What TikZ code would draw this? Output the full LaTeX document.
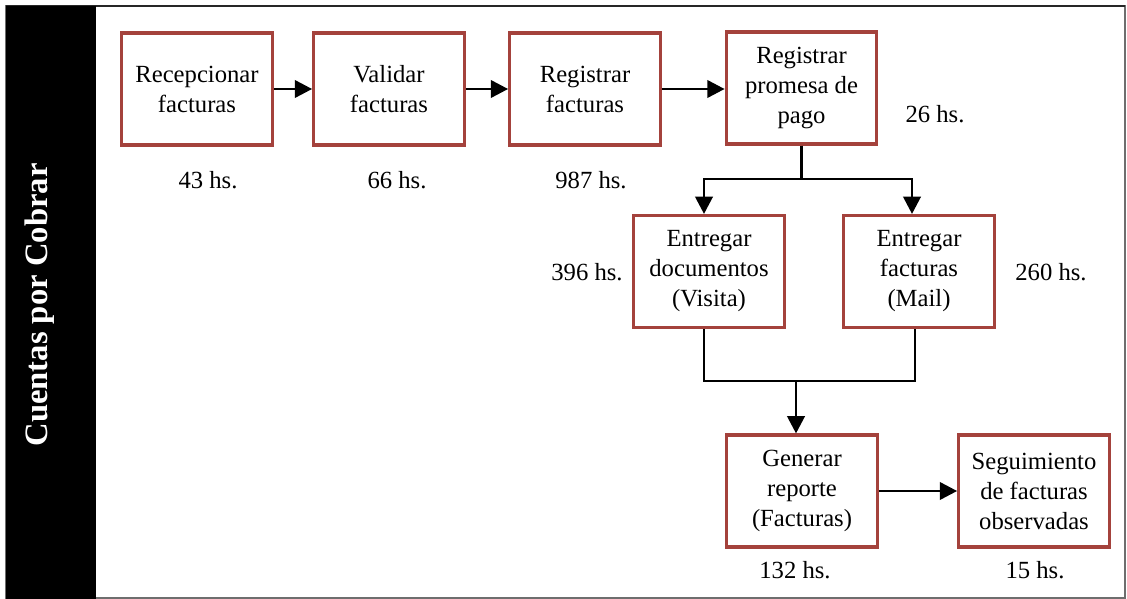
\documentclass[tikz,border=0pt]{standalone}
\usepackage{fontspec}
\setmainfont{Liberation Serif}
\usetikzlibrary{arrows.meta}
\definecolor{boxred}{RGB}{164,66,60}
\definecolor{framegray}{RGB}{110,110,110}
\tikzset{
  stepbox/.style={draw=boxred, line width=2.3pt, fill=white, minimum width=113pt,
    minimum height=84pt, align=center, inner sep=2pt,
    font=\fontsize{18.5}{22.5}\selectfont},
  hours/.style={font=\fontsize{18.5}{22.5}\selectfont, inner sep=0pt},
  flow/.style={line width=2.2pt, -{Triangle[length=13pt 0 0,width=13pt 0 0]}},
  joint/.style={line width=2.2pt}
}
\begin{document}
\begin{tikzpicture}[x=0.75pt, y=-0.75pt]
\useasboundingbox (0,0) rectangle (1127,599);
% frame and lane band
\draw[framegray, line width=1.2pt] (6,6) rectangle (1125,598);
\draw[black!85, line width=1.6pt] (6,6) -- (1125,6);
\fill[black] (6,6) rectangle (96,599);
\node[rotate=90, text=white, inner sep=0pt,
      font=\fontsize{24.5}{28}\selectfont\bfseries] (lane) at (40,305) {Cuentas por Cobrar};

% process steps
\node[stepbox] (b1) at (197,89) {Recepcionar\\facturas};
\node[stepbox] (b2) at (389,89) {Validar\\facturas};
\node[stepbox] (b3) at (585,89) {Registrar\\facturas};
\node[stepbox] (b4) at (801.5,88) {Registrar\\promesa de\\pago};
\node[stepbox] (b5) at (709,271.5) {Entregar\\documentos\\(Visita)};
\node[stepbox] (b6) at (919,271.5) {Entregar\\facturas\\(Mail)};
\node[stepbox] (b7) at (802,491) {Generar\\reporte\\(Facturas)};
\node[stepbox] (b8) at (1034,491) {Seguimiento\\de facturas\\observadas};

% durations
\node[hours] (h1) at (208,180) {43 hs.};
\node[hours] (h2) at (397,180) {66 hs.};
\node[hours] (h3) at (591,180) {987 hs.};
\node[hours] (h4) at (935,114) {26 hs.};
\node[hours] (h5) at (587,272) {396 hs.};
\node[hours] (h6) at (1051,272) {260 hs.};
\node[hours] (h7) at (795,570) {132 hs.};
\node[hours] (h8) at (1035,570) {15 hs.};

% connectors
\draw[flow] (b1.east) -- (b2.west);
\draw[flow] (b2.east) -- (b3.west);
\draw[flow] (b3.east) -- (b3.east -| b4.west);

\coordinate (sl) at (704,179);
\coordinate (sr) at (912,179);
\draw[flow] (b4.south) |- (sl) -- (sl |- b5.north);
\draw[flow] (b4.south) |- (sr) -- (sr |- b6.north);

\coordinate (ml) at (704,381);
\coordinate (mr) at (915,381);
\coordinate (mm) at (796,381);
\draw[joint] (ml |- b5.south) -- (ml) -- (mr) -- (mr |- b6.south);
\draw[flow] (mm) -- (mm |- b7.north);

\draw[flow] (b7.east) -- (b8.west);
\end{tikzpicture}
\end{document}
